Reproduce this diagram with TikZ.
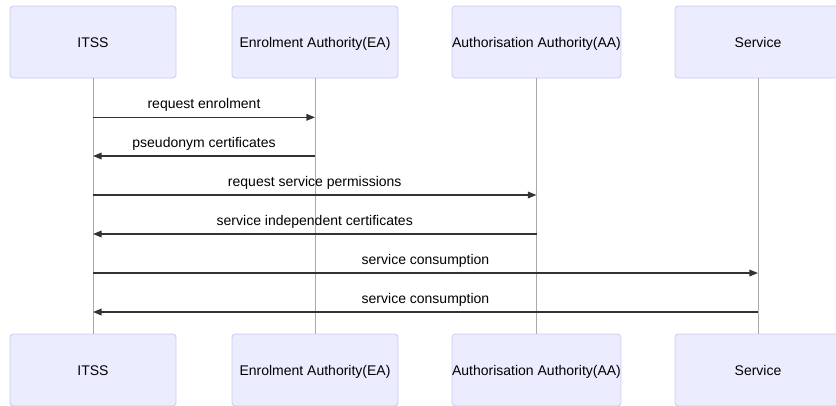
\documentclass[tikz,border=0pt]{standalone}
\usepackage{fontspec}
\setmainfont{Liberation Sans}
\usetikzlibrary{arrows.meta}
\definecolor{actfill}{HTML}{ECECFF}
\definecolor{actdraw}{HTML}{C9C9F5}
\definecolor{lifecol}{HTML}{AAAAAA}
\definecolor{msgcol}{HTML}{333333}
\tikzset{
  actor/.style={draw=actdraw, fill=actfill, rounded corners=2.5pt, line width=0.6pt,
    minimum width=124.5pt, minimum height=54pt, inner sep=0pt,
    text height=7.6pt, text depth=0pt,
    font=\fontsize{10.5}{12.6}\selectfont, text=black},
  life/.style={draw=lifecol, line width=0.6pt},
  msg/.style={draw=msgcol, line width=1.1pt, -{Triangle[length=6.5pt,width=5pt]}},
  msglabel/.style={font=\fontsize{10.5}{12.6}\selectfont, text=black, inner sep=0pt,
    anchor=base, yshift=6.6pt}
}
\begin{document}
\begin{tikzpicture}[x=0.75pt,y=-0.75pt]
\useasboundingbox (0,0) rectangle (836,405);
\clip (0,0) rectangle (836,405);
% top actors
\node[actor] (t1) at (93,42) {ITSS};
\node[actor] (t2) at (315,42) {Enrolment Authority(EA)};
\node[actor] (t3) at (536.5,42) {Authorisation Authority(AA)};
\node[actor] (t4) at (758,42) {Service};
% bottom actors
\node[actor] (b1) at (93,370) {ITSS};
\node[actor] (b2) at (315,370) {Enrolment Authority(EA)};
\node[actor] (b3) at (536.5,370) {Authorisation Authority(AA)};
\node[actor] (b4) at (758,370) {Service};
% lifelines
\draw[life] (t1.south) -- (b1.north);
\draw[life] (t2.south) -- (b2.north);
\draw[life] (t3.south) -- (b3.north);
\draw[life] (t4.south) -- (b4.north);
% messages
\coordinate (m1a) at (93,117.3); \coordinate (m1b) at (315,117.3);
\coordinate (m2a) at (315,156); \coordinate (m2b) at (93,156);
\coordinate (m3a) at (93,195); \coordinate (m3b) at (536.5,195);
\coordinate (m4a) at (536.5,234); \coordinate (m4b) at (93,234);
\coordinate (m5a) at (93,273); \coordinate (m5b) at (758,273);
\coordinate (m6a) at (758,312); \coordinate (m6b) at (93,312);
\draw[msg] (m1a) -- (m1b) node[msglabel, midway] (l1) {request enrolment};
\draw[msg] (m2a) -- (m2b) node[msglabel, midway] (l2) {pseudonym certificates};
\draw[msg] (m3a) -- (m3b) node[msglabel, midway] (l3) {request service permissions};
\draw[msg] (m4a) -- (m4b) node[msglabel, midway] (l4) {service independent certificates};
\draw[msg] (m5a) -- (m5b) node[msglabel, midway] (l5) {service consumption};
\draw[msg] (m6a) -- (m6b) node[msglabel, midway] (l6) {service consumption};
\end{tikzpicture}
\end{document}
